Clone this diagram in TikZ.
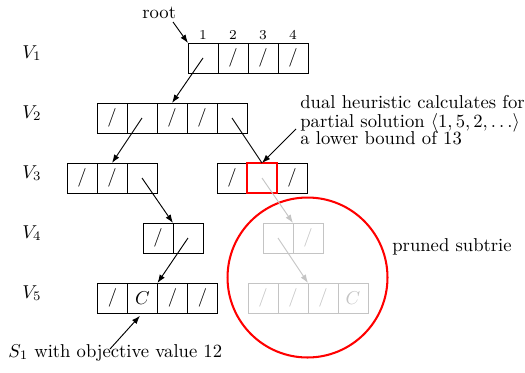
\documentclass[tikz,border=0pt]{standalone}
\usetikzlibrary{arrows.meta}
\definecolor{prunegray}{gray}{0.77}
\begin{document}
\begin{tikzpicture}[x=0.537pt,y=-0.537pt,
  cell/.style={draw, line width=0.5pt, minimum width=16.1pt, minimum height=16.1pt, inner sep=0pt, outer sep=0pt},
  gcell/.style={cell, draw=prunegray, text=prunegray},
  redcell/.style={cell, draw=red, line width=1.2pt},
  arr/.style={line width=0.5pt, -{Latex[length=4.5pt,width=3.2pt]}},
  garr/.style={arr, draw=prunegray},
  lbl/.style={anchor=base west, inner sep=0pt},
  num/.style={anchor=base, inner sep=0pt, font=\fontsize{7.3}{9}\selectfont}]
\useasboundingbox (0,0) rectangle (525,372);

% level labels
\node[lbl] (v1) at (22,58) {$V_1$};
\node[lbl] (v2) at (22,118) {$V_2$};
\node[lbl] (v3) at (22,178) {$V_3$};
\node[lbl] (v4) at (22,238) {$V_4$};
\node[lbl] (v5) at (22,298) {$V_5$};

% V1
\node[cell] (a1) at (203,58) {};
\node[cell] (a2) at (233,58) {/};
\node[cell] (a3) at (263,58) {/};
\node[cell] (a4) at (293,58) {/};
\node[num] (n1) at (203,39) {1};
\node[num] (n2) at (233,39) {2};
\node[num] (n3) at (263,39) {3};
\node[num] (n4) at (293,39) {4};

% V2
\node[cell] (b1) at (112,118) {/};
\node[cell] (b2) at (142,118) {};
\node[cell] (b3) at (172,118) {/};
\node[cell] (b4) at (202,118) {/};
\node[cell] (b5) at (232,118) {};

% V3
\node[cell] (c1) at (82,178) {/};
\node[cell] (c2) at (112,178) {/};
\node[cell] (c3) at (142,178) {};
\node[cell] (d1) at (232,178) {/};
\node[cell] (d3) at (292,178) {/};
\node[redcell] (d2) at (262,178) {};

% V4
\node[cell] (e1) at (158,238) {/};
\node[cell] (e2) at (188,238) {};
\node[gcell] (f1) at (278,238) {};
\node[gcell] (f2) at (308,238) {/};

% V5
\node[cell] (g1) at (112.5,298) {/};
\node[cell] (g2) at (142.5,298) {$C$};
\node[cell] (g3) at (172.5,298) {/};
\node[cell] (g4) at (202.5,298) {/};
\node[gcell] (h1) at (263,298) {/};
\node[gcell] (h2) at (293,298) {/};
\node[gcell] (h3) at (323,298) {/};
\node[gcell] (h4) at (353,298) {$C$};

% pruned region
\node[draw=red, line width=1.1pt, circle, minimum size=85.9pt, inner sep=0pt] (prune) at (307.5,277.5) {};

% texts
\node[lbl] (root) at (142,18) {root};
\node[lbl] (ann1) at (300,108.5) {dual heuristic calculates for};
\node[lbl] (ann2) at (300,127) {partial solution $\langle 1,5,2,\dots\rangle$};
\node[lbl] (ann3) at (300,144) {a lower bound of 13};
\node[lbl] (pr) at (392,251) {pruned subtrie};
\node[lbl] (s1) at (8,357) {$S_1$ with objective value 12};

\coordinate (rootstart) at (173,22);
\coordinate (annstart) at (296,129);
\coordinate (s1start) at (110,349);

% connectors
\draw[arr] (rootstart) -- (a1.north west);
\draw[arr] (a1.center) -- (b3.north);
\draw[arr] (b2.center) -- (c2.north);
\draw[line width=0.5pt] (b5.center) -- (d2.north);
\draw[arr] (annstart) -- (d2.north);
\draw[arr] (c3.center) -- (e1.north east);
\draw[arr] (e2.center) -- (g2.north east);
\draw[garr] (d2.center) -- (f1.north east);
\draw[garr] (f1.center) -- (h2.north east);
\draw[arr, shorten >=2pt] (s1start) -- (g2.south);
\end{tikzpicture}
\end{document}
